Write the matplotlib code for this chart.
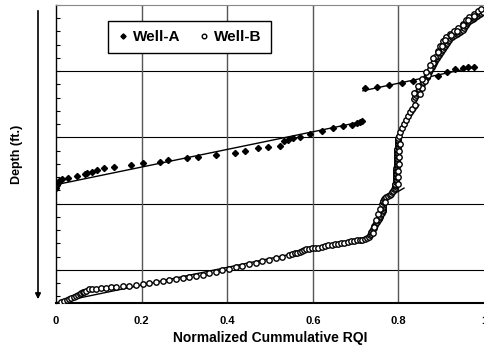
import matplotlib
matplotlib.use("Agg")
import matplotlib.pyplot as plt

# Well-A: normalized cumulative RQI vs depth (ft below top of interval)
well_a_x = [0.000, 0.002, 0.005, 0.007, 0.014, 0.028, 0.049, 0.068, 0.072, 0.084,
            0.096, 0.112, 0.136, 0.175, 0.203, 0.243, 0.262, 0.306, 0.332, 0.374,
            0.418, 0.442, 0.472, 0.495, 0.523, 0.533, 0.542, 0.554, 0.570, 0.593,
            0.621, 0.647, 0.671, 0.692, 0.703, 0.710, 0.715,
            0.722, 0.750, 0.778, 0.808, 0.834, 0.867, 0.893, 0.914, 0.932, 0.951,
            0.963, 0.977]
well_a_d = [55.3, 54.4, 53.8, 53.2, 52.5, 52.2, 51.6, 51.0, 50.7, 50.4,
            49.8, 49.2, 48.9, 48.3, 47.7, 47.4, 46.8, 46.2, 45.9, 45.3,
            44.7, 44.1, 43.2, 42.9, 42.6, 41.1, 40.8, 40.2, 39.9, 39.0,
            38.1, 37.1, 36.5, 36.2, 35.6, 35.3, 35.0,
            25.1, 24.8, 24.2, 23.6, 23.0, 22.0, 21.4, 20.2, 19.3, 19.0,
            18.7, 18.7]

# Well-B
well_b_x = [
    # lower flow unit
    0.012, 0.019, 0.025, 0.030, 0.036, 0.042, 0.047, 0.051, 0.055, 0.058,
    0.063, 0.066, 0.070, 0.077, 0.085, 0.094, 0.105, 0.117, 0.129, 0.140,
    0.157, 0.171, 0.187, 0.203, 0.217, 0.234, 0.250, 0.264, 0.280, 0.297,
    0.311, 0.327, 0.344, 0.358, 0.374, 0.388, 0.404, 0.421, 0.435, 0.451,
    0.467, 0.481, 0.498, 0.514, 0.528, 0.544, 0.551, 0.558, 0.564, 0.570,
    0.575, 0.579, 0.585, 0.591, 0.598, 0.605, 0.613, 0.622, 0.629, 0.636,
    0.644, 0.652, 0.659, 0.666, 0.674, 0.682, 0.689, 0.696, 0.703, 0.710,
    0.716, 0.722, 0.727, 0.731,
    # first steep step
    0.734, 0.736, 0.737, 0.738, 0.740, 0.743, 0.744, 0.745, 0.748, 0.750,
    0.753, 0.755, 0.756, 0.757, 0.760, 0.762, 0.763, 0.764, 0.764, 0.764,
    0.763, 0.762, 0.763, 0.764, 0.766, 0.769, 0.772, 0.776, 0.780, 0.783,
    0.785, 0.787, 0.790, 0.792,
    0.740, 0.744, 0.748, 0.753, 0.758, 0.768,
    # near-vertical stack
    0.792, 0.792, 0.793, 0.794, 0.794, 0.794, 0.794, 0.794, 0.794, 0.794,
    0.794, 0.794, 0.795, 0.797, 0.797, 0.797, 0.797, 0.797, 0.797, 0.797,
    0.797, 0.797, 0.797, 0.797, 0.797, 0.797, 0.798, 0.799, 0.799, 0.799,
    0.799, 0.799, 0.800, 0.801, 0.804, 0.808, 0.813, 0.818, 0.822, 0.827,
    0.832, 0.839,
    0.798, 0.799, 0.799, 0.801, 0.802, 0.802, 0.803,
    # upper flow unit
    0.837, 0.839, 0.842, 0.844, 0.846, 0.848, 0.851, 0.853, 0.855, 0.858,
    0.860, 0.862, 0.864, 0.867, 0.870, 0.872, 0.874, 0.876, 0.879, 0.881,
    0.884, 0.886, 0.888, 0.890, 0.893, 0.895, 0.898, 0.900, 0.902, 0.904,
    0.907, 0.909, 0.912, 0.914, 0.916, 0.918, 0.921, 0.925, 0.928, 0.932,
    0.936, 0.939, 0.943, 0.946, 0.950, 0.953, 0.955, 0.958, 0.960, 0.963,
    0.966, 0.970, 0.974, 0.977, 0.980, 0.984, 0.987, 0.991, 0.994, 0.998,
    0.850, 0.856, 0.862, 0.868, 0.874, 0.880, 0.886, 0.892, 0.898, 0.904,
    0.912, 0.920, 0.930, 0.940, 0.950, 0.958, 0.966, 0.976, 0.986, 0.994,
    0.836, 0.845, 0.854, 0.864, 0.873, 0.882, 0.892, 0.901, 0.910, 0.924,
    0.938, 0.950, 0.962, 0.976]
well_b_d = [
    89.7, 89.4, 89.1, 88.8, 88.5, 88.2, 87.9, 87.6, 87.3, 87.0,
    86.7, 86.6, 86.4, 85.8, 85.9, 85.8, 85.6, 85.5, 85.3, 85.2,
    85.0, 84.9, 84.6, 84.3, 84.0, 83.7, 83.4, 83.1, 82.7, 82.4,
    82.1, 81.8, 81.4, 80.9, 80.6, 80.0, 79.7, 79.1, 78.8, 78.2,
    77.9, 77.3, 77.0, 76.4, 76.1, 75.5, 75.3, 75.0, 74.8, 74.6,
    74.2, 74.0, 73.8, 73.7, 73.5, 73.4, 73.3, 73.1, 72.8, 72.6,
    72.5, 72.3, 72.1, 71.9, 71.8, 71.6, 71.4, 71.3, 71.1, 71.0,
    70.9, 70.7, 70.4, 70.1,
    69.6, 69.2, 68.7, 68.3, 67.8, 67.3, 66.8, 66.4, 65.9, 65.5,
    65.0, 64.6, 64.1, 63.7, 63.2, 62.8, 62.3, 61.9, 61.4, 61.0,
    60.5, 60.1, 59.6, 59.2, 58.7, 58.3, 58.0, 57.7, 57.4, 57.1,
    56.6, 56.2, 55.7, 55.3,
    69.0, 67.0, 65.0, 63.0, 61.5, 59.5,
    54.8, 54.4, 54.0, 53.5, 53.0, 52.5, 52.0, 51.6, 51.1, 50.7,
    50.2, 49.8, 49.3, 48.9, 48.4, 48.0, 47.5, 47.1, 46.6, 46.2,
    45.7, 45.3, 44.8, 44.4, 43.9, 43.5, 43.0, 42.6, 42.1, 41.7,
    41.2, 40.8, 40.2, 39.6, 38.4, 37.1, 35.9, 34.7, 33.5, 32.3,
    31.4, 30.2,
    54.0, 52.0, 50.0, 48.0, 46.0, 44.0, 42.0,
    28.4, 27.8, 27.2, 26.6, 26.0, 25.4, 24.9, 24.5, 23.9, 23.3,
    22.8, 22.3, 21.7, 21.1, 20.6, 20.2, 19.6, 19.0, 18.6, 18.1,
    17.5, 16.9, 16.4, 16.0, 15.5, 15.1, 14.6, 14.2, 13.7, 13.3,
    12.8, 12.4, 11.9, 11.5, 11.0, 10.6, 10.1, 9.7, 9.4, 9.1,
    8.8, 8.5, 8.2, 7.9, 7.4, 6.9, 6.4, 6.0, 5.5, 5.1,
    4.8, 4.5, 4.2, 3.9, 3.6, 3.3, 3.0, 2.7, 2.4, 2.1,
    27.0, 25.0, 23.0, 21.2, 19.4, 17.6, 15.8, 14.0, 12.4, 11.0,
    9.8, 8.8, 8.0, 7.0, 5.8, 4.6, 3.6, 2.6, 1.8, 1.2,
    26.6, 24.5, 22.3, 20.2, 18.1, 16.0, 14.2, 12.4, 10.6, 9.1,
    7.9, 6.0, 4.5, 3.3]

# straight-line fits drawn over each flow unit: (x0, x1), (d0, d1)
fits_a = [((0.010, 0.720), (54.0, 35.1)),
          ((0.717, 0.981), (25.9, 18.7))]
fits_b = [((0.005, 0.734), (89.8, 70.3)),
          ((0.764, 0.813), (59.0, 55.3)),
          ((0.797, 0.848), (39.6, 30.2))]

plt.rcParams["font.family"] = ["Liberation Sans", "DejaVu Sans"]
plt.rcParams["font.weight"] = "bold"

fig = plt.figure(figsize=(4.84, 3.56), dpi=100)
ax = fig.add_axes([56 / 484, 53 / 356, 428 / 484, 298 / 356])

for xs, ds in fits_a + fits_b:
    ax.plot(xs, ds, "-", color="black", lw=1.0, zorder=3)
ax.plot(well_a_x, well_a_d, "D", color="black", ms=3.1, lw=0, zorder=4,
        label="Well-A")
ax.plot(well_b_x, well_b_d, "o", mfc="white", mec="black", mew=1.0, ms=3.9,
        lw=0, zorder=4, label="Well-B")

ax.set_xlim(0, 1)
ax.set_ylim(90, 0)
ax.set_xticks([0, 0.2, 0.4, 0.6, 0.8, 1.0])
ax.set_xticklabels(["0", "0.2", "0.4", "0.6", "0.8", "1"])
ax.set_yticks([0, 20, 40, 60, 80])
ax.set_yticks(range(0, 91, 4), minor=True)
ax.set_yticklabels([])
ax.tick_params(axis="x", length=0, labelsize=8, pad=9)
ax.tick_params(axis="y", which="both", direction="in", length=3, width=0.8)

for d in [20, 40, 60, 80]:
    ax.axhline(d, color="black", lw=0.8, zorder=1)
for x in [0.2, 0.4, 0.6, 0.8]:
    ax.axvline(x, color="#555555", lw=1.0, zorder=1)

ax.spines["bottom"].set_linewidth(1.5)
ax.spines["left"].set_linewidth(1.0)
ax.spines["top"].set_color("#888888")
ax.spines["top"].set_linewidth(0.8)
ax.spines["right"].set_visible(False)

ax.set_xlabel("Normalized Cummulative RQI", fontsize=10, fontweight="bold",
              labelpad=4)
fig.text(17 / 484, 0.567, "Depth (ft.)", rotation=90, ha="center",
         va="center", fontsize=9, fontweight="bold")
ax.annotate("", xy=(38 / 484, 54 / 356), xytext=(38 / 484, 348 / 356),
            xycoords="figure fraction", textcoords="figure fraction",
            arrowprops=dict(arrowstyle="-|>", color="black", lw=1.2,
                            mutation_scale=8))

leg = ax.legend(loc="center", bbox_to_anchor=(0.312, 0.893), ncol=2,
                fontsize=11, frameon=True, fancybox=False, edgecolor="black",
                framealpha=1, handlelength=0.7, handletextpad=0.3,
                columnspacing=1.2, borderpad=0.6, markerscale=0.85)
leg.get_frame().set_linewidth(1.0)
for t in leg.get_texts():
    t.set_fontweight("bold")

fig.savefig("out.png", dpi=100)
